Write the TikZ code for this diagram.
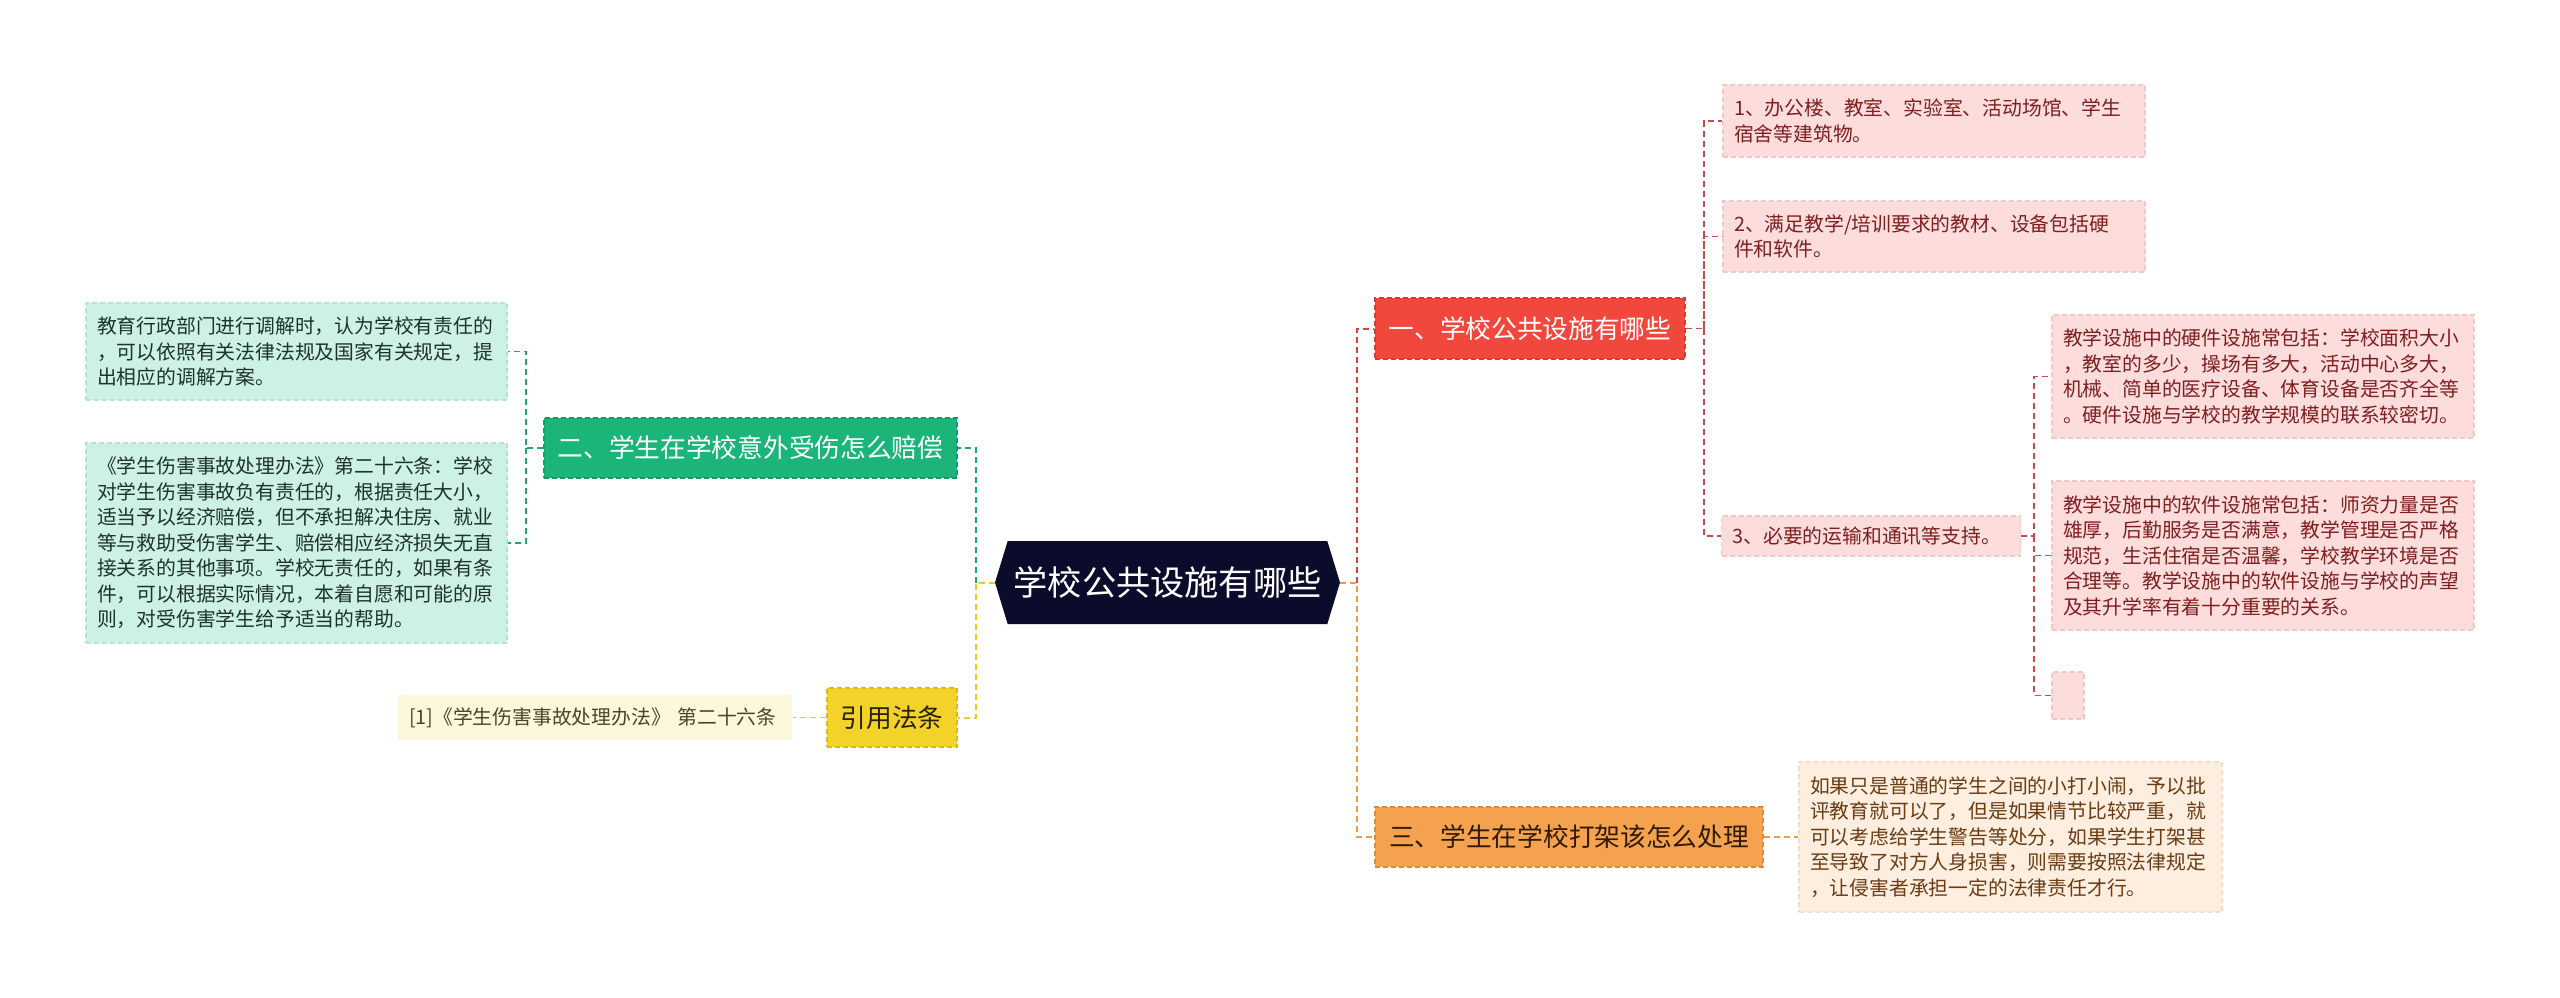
\documentclass[tikz,border=0pt]{standalone}
\usepackage{fontspec}
\setmainfont{Noto Sans CJK SC}
\usetikzlibrary{shapes.symbols}
\definecolor{rootfill}{HTML}{0B0B2B}
\definecolor{redfill}{HTML}{F2473C}
\definecolor{redborder}{HTML}{D93A30}
\definecolor{pinkfill}{HTML}{FDDCDC}
\definecolor{pinkborder}{HTML}{F5C6C6}
\definecolor{pinktext}{HTML}{7E1F1F}
\definecolor{greenfill}{HTML}{1BB57A}
\definecolor{greenborder}{HTML}{14996A}
\definecolor{mintfill}{HTML}{CDF1E3}
\definecolor{mintborder}{HTML}{B5E5D0}
\definecolor{minttext}{HTML}{1E3328}
\definecolor{yelfill}{HTML}{F3D22A}
\definecolor{yelborder}{HTML}{D9B820}
\definecolor{yeltext}{HTML}{2A2200}
\definecolor{creamfill}{HTML}{FDF8DC}
\definecolor{creamborder}{HTML}{F4ECC4}
\definecolor{creamtext}{HTML}{4D4426}
\definecolor{orfill}{HTML}{F5A24F}
\definecolor{orborder}{HTML}{E08A3A}
\definecolor{ortext}{HTML}{2E1A05}
\definecolor{peachfill}{HTML}{FDEEE0}
\definecolor{peachborder}{HTML}{F5DCC6}
\definecolor{peachtext}{HTML}{6B3B12}
\definecolor{redline}{HTML}{D9413A}
\definecolor{redline2}{HTML}{C84A4C}
\definecolor{orline}{HTML}{EE9A48}
\definecolor{grline}{HTML}{1AA874}
\definecolor{ylline}{HTML}{EEC82A}
\begin{document}
\begin{tikzpicture}[x=1pt,y=-1pt,
  box/.style={rectangle, inner xsep=11pt, inner ysep=0pt, align=left, line width=1.2pt,
    dash pattern=on 5pt off 3pt,
    font=\fontsize{19.8}{25.5}\selectfont},
  bigbox/.style={rectangle, inner sep=0pt, align=center, line width=1.2pt,
    dash pattern=on 5pt off 3pt,
    font=\fontsize{25.7}{30}\selectfont},
  pinkbox/.style={box, fill=pinkfill, draw=pinkborder, text=pinktext},
  mintbox/.style={box, fill=mintfill, draw=mintborder, text=minttext},
  peachbox/.style={box, fill=peachfill, draw=peachborder, text=peachtext},
  creambox/.style={box, fill=creamfill, draw=creamborder, text=creamtext},
  conn/.style={line width=2pt, dash pattern=on 6pt off 4pt},
  thinconn/.style={line width=1.6pt, dash pattern=on 6pt off 4pt}
]
\useasboundingbox (0,0) rectangle (2560,997);
\fill[white] (0,0) rectangle (2560,997);

% root
\node[signal, signal to=east and west, signal pointer angle=146,
  fill=rootfill, text=white, inner sep=0pt,
  minimum width=345, minimum height=83,
  font=\fontsize{34.2}{36}\selectfont] (root) at (1167.5,582.5) {学校公共设施有哪些};

% branch 1
\node[bigbox, fill=redfill, draw=redborder, text=white,
  minimum width=310, minimum height=61] (b1) at (1530,328.5) {一、学校公共设施有哪些};
\node[pinkbox, text width=400, minimum height=72] (c1) at (1934,121)
  {1、办公楼、教室、实验室、活动场馆、学生\\宿舍等建筑物。};
\node[pinkbox, text width=400, minimum height=71] (c2) at (1934,236.5)
  {2、满足教学/培训要求的教材、设备包括硬\\件和软件。};
\node[pinkbox, text width=277, minimum height=40] (c3) at (1871,536)
  {3、必要的运输和通讯等支持。};
\node[pinkbox, text width=400, minimum height=123] (d1) at (2263,376.5)
  {教学设施中的硬件设施常包括：学校面积大小\\，教室的多少，操场有多大，活动中心多大，\\机械、简单的医疗设备、体育设备是否齐全等\\。硬件设施与学校的教学规模的联系较密切。};
\node[pinkbox, text width=400, minimum height=149] (d2) at (2263,555.5)
  {教学设施中的软件设施常包括：师资力量是否\\雄厚，后勤服务是否满意，教学管理是否严格\\规范，生活住宿是否温馨，学校教学环境是否\\合理等。教学设施中的软件设施与学校的声望\\及其升学率有着十分重要的关系。};
\node[pinkbox, inner xsep=0pt, minimum width=32, minimum height=47] (d3) at (2068,695.5) {};

% branch 3
\node[bigbox, fill=orfill, draw=orborder, text=ortext,
  minimum width=388, minimum height=60] (b3) at (1569,837) {三、学生在学校打架该怎么处理};
\node[peachbox, text width=401, minimum height=150] (e1) at (2010.5,837)
  {如果只是普通的学生之间的小打小闹，予以批\\评教育就可以了，但是如果情节比较严重，就\\可以考虑给学生警告等处分，如果学生打架甚\\至导致了对方人身损害，则需要按照法律规定\\，让侵害者承担一定的法律责任才行。};

% branch 2
\node[bigbox, fill=greenfill, draw=greenborder, text=white,
  minimum width=413, minimum height=60] (b2) at (750.5,448) {二、学生在学校意外受伤怎么赔偿};
\node[mintbox, text width=399, minimum height=97] (g1) at (296.5,351.5)
  {教育行政部门进行调解时，认为学校有责任的\\，可以依照有关法律法规及国家有关规定，提\\出相应的调解方案。};
\node[mintbox, text width=399, minimum height=200] (g2) at (296.5,543)
  {《学生伤害事故处理办法》第二十六条：学校\\对学生伤害事故负有责任的，根据责任大小，\\适当予以经济赔偿，但不承担解决住房、就业\\等与救助受伤害学生、赔偿相应经济损失无直\\接关系的其他事项。学校无责任的，如果有条\\件，可以根据实际情况，本着自愿和可能的原\\则，对受伤害学生给予适当的帮助。};

% branch 4
\node[bigbox, fill=yelfill, draw=yelborder, text=yeltext,
  minimum width=130, minimum height=59] (y1) at (892,717.5) {引用法条};
\node[creambox, draw=none, text width=372, minimum height=45] (y2) at (595,717.5)
  {[1]《学生伤害事故处理办法》 第二十六条};

% junctions
\coordinate (jr) at (1357,582.5);
\coordinate (jl) at (976,582.5);
\coordinate (j1) at (1704,328.5);
\coordinate (j3) at (2034,536);
\coordinate (j2) at (526,448);

% connectors right
\draw[conn, orline] (root.east) -- (jr) |- (b3.west);
\draw[conn, redline] (jr) |- (b1.west);
\draw[thinconn, redline2] (b1.east) -- (j1) |- (c1.west);
\draw[thinconn, redline2] (j1) |- (c2.west);
\draw[thinconn, redline2] (j1) |- (c3.west);
\draw[thinconn, redline2] (c3.east) -- (j3) |- (d1.west);
\draw[thinconn, redline2] (j3) |- (d2.west);
\draw[thinconn, redline2] (j3) |- (d3.west);
\draw[thinconn, orline] (b3.east) -- (e1.west);

% connectors left
\draw[conn, ylline] (root.west) -- (jl) |- (y1.east);
\draw[conn, grline] (jl) |- (b2.east);
\draw[thinconn, grline] (b2.west) -- (j2) |- (g1.east);
\draw[thinconn, grline] (j2) |- (g2.east);
\draw[thinconn, ylline] (y1.west) -- (y2.east);
\end{tikzpicture}
\end{document}
